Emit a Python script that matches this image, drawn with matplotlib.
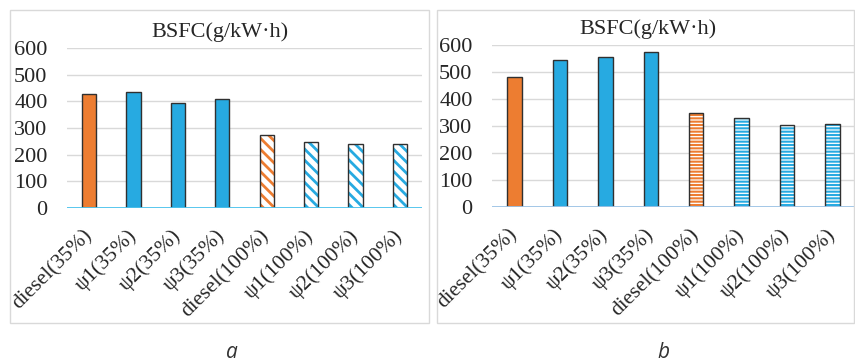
import matplotlib
matplotlib.use("Agg")
import matplotlib.pyplot as plt
from matplotlib.patches import Rectangle

# data
categories = ["diesel(35%)", "ψ1(35%)", "ψ2(35%)", "ψ3(35%)",
              "diesel(100%)", "ψ1(100%)", "ψ2(100%)", "ψ3(100%)"]
bsfc_a = [426, 435, 394, 409, 272, 246, 239, 240]
bsfc_b = [482, 545, 557, 573, 350, 329, 302, 307]
y_ticks = [0, 100, 200, 300, 400, 500, 600]

ORANGE = "#ED7D31"
BLUE = "#27AAE1"
colors = [ORANGE, BLUE, BLUE, BLUE, ORANGE, BLUE, BLUE, BLUE]
hatched = [False] * 4 + [True] * 4

plt.rcParams["font.family"] = ["Liberation Serif", "DejaVu Serif"]

W, H = 855, 361
fig = plt.figure(figsize=(W / 100, H / 100), dpi=100)


def px_axes(x0, x1, ytop, ybot):
    return fig.add_axes([x0 / W, (H - ybot) / H, (x1 - x0) / W, (ybot - ytop) / H])


def draw_panel(ax, values, hatch, hatch_lw, zero_color):
    x = list(range(len(values)))
    for i, v in enumerate(values):
        if hatched[i]:
            with plt.rc_context({"hatch.linewidth": hatch_lw}):
                ax.bar(x[i], v, width=0.32, facecolor="white", edgecolor=colors[i],
                       hatch=hatch, linewidth=0, zorder=3)
            ax.bar(x[i], v, width=0.32, fill=False, edgecolor="#303030",
                   linewidth=1.0, zorder=4)
        else:
            ax.bar(x[i], v, width=0.32, color=colors[i], edgecolor="#303030",
                   linewidth=1.0, zorder=3)
    ax.set_xlim(-0.5, len(values) - 0.5)
    ax.set_ylim(0, 600)
    ax.set_yticks(y_ticks)
    ax.grid(axis="y", color="#D9D9D9", linewidth=1.0, zorder=0)
    ax.axhline(0, color=zero_color, linewidth=1.3, zorder=5)
    for s in ax.spines.values():
        s.set_visible(False)
    ax.tick_params(axis="y", length=0, pad=14, labelsize=16, labelcolor="#262626")
    ax.tick_params(axis="x", length=0, pad=18)
    ax.set_xticks(x)
    ax.set_xticklabels(categories, rotation=45, ha="right", va="center",
                       fontsize=15.5, color="#262626", rotation_mode="anchor")


# panel borders
fig.patches.append(Rectangle((10 / W, (H - 323) / H), 419 / W, 313 / H,
                             transform=fig.transFigure, fill=False,
                             edgecolor="#D9D9D9", linewidth=1.0))
fig.patches.append(Rectangle((437 / W, (H - 323) / H), 417 / W, 313 / H,
                             transform=fig.transFigure, fill=False,
                             edgecolor="#D9D9D9", linewidth=1.0))

ax_a = px_axes(67, 422, 48, 208)
draw_panel(ax_a, bsfc_a, "\\\\\\", 2.0, "#4CC3EE")
ax_b = px_axes(492, 855, 45, 207)
draw_panel(ax_b, bsfc_b, "-----", 1.5, "#9DC3E6")

fig.text(220 / W, (H - 32) / H, "BSFC(g/kW·h)", ha="center", va="center",
         fontsize=16, color="#262626")
fig.text(648 / W, (H - 29) / H, "BSFC(g/kW·h)", ha="center", va="center",
         fontsize=16, color="#262626")

fig.text(232 / W, (H - 352) / H, "a", ha="center", va="center",
         fontsize=15, style="italic", family="Open Sans", color="#333333")
fig.text(663 / W, (H - 352) / H, "b", ha="center", va="center",
         fontsize=15, style="italic", family="Open Sans", color="#333333")

fig.savefig("out.png", dpi=100)
